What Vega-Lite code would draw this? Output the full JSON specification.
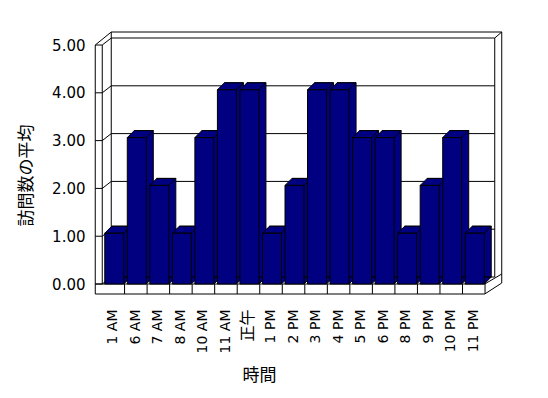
{
  "$schema": "https://vega.github.io/schema/vega-lite/v6.json",
  "autosize": "none",
  "width": 408,
  "height": 262,
  "padding": {"left": 94, "top": 32, "right": 46, "bottom": 104},
  "background": "white",
  "config": {"view": {"stroke": null}},
  "data": {"values": [
    {"t": "1 AM", "v": 1}, {"t": "6 AM", "v": 3}, {"t": "7 AM", "v": 2}, {"t": "8 AM", "v": 1},
    {"t": "10 AM", "v": 3}, {"t": "11 AM", "v": 4}, {"t": "正午", "v": 4}, {"t": "1 PM", "v": 1},
    {"t": "2 PM", "v": 2}, {"t": "3 PM", "v": 4}, {"t": "4 PM", "v": 4}, {"t": "5 PM", "v": 3},
    {"t": "6 PM", "v": 3}, {"t": "8 PM", "v": 1}, {"t": "9 PM", "v": 2}, {"t": "10 PM", "v": 3},
    {"t": "11 PM", "v": 1}
  ]},
  "encoding": {
    "x": {"field": "t", "type": "nominal",
      "scale": {"domain": ["1 AM","6 AM","7 AM","8 AM","10 AM","11 AM","正午","1 PM","2 PM","3 PM","4 PM","5 PM","6 PM","8 PM","9 PM","10 PM","11 PM"],
        "paddingInner": 0, "paddingOuter": 0.5548, "align": 0.32},
      "axis": {"title": "時間", "domain": false, "ticks": false, "grid": false,
        "labelAngle": -90, "labelAlign": "right", "labelBaseline": "middle", "labelPadding": 15,
        "labelFont": "DejaVu Sans, Noto Sans CJK JP",
        "labelFontSize": {"condition": {"test": "datum.value == '正午'", "value": 16}, "value": 14},
        "labelColor": "black",
        "titleFont": "Noto Sans CJK JP", "titleFontSize": 17, "titleFontWeight": "normal", "titleColor": "black",
        "titleX": 165, "titleY": 81, "titleAlign": "center", "titleBaseline": "middle"}},
    "y": {"field": "v", "type": "quantitative",
      "scale": {"domain": [-0.209, 5.272], "nice": false, "zero": false},
      "axis": {"title": "訪問数の平均", "domain": false, "ticks": false, "grid": false,
        "values": [0, 1, 2, 3, 4, 5], "format": ".2f", "labelPadding": 9,
        "labelFont": "DejaVu Sans", "labelFontSize": 15, "labelColor": "black",
        "titleFont": "Noto Sans CJK JP", "titleFontSize": 17, "titleFontWeight": "normal", "titleColor": "black",
        "titleX": -68, "titleY": 143, "titleAlign": "center", "titleBaseline": "middle", "titleAngle": -90}}
  },
  "layer": [
    {"data": {"values": [{"g": 0}, {"g": 1}, {"g": 2}, {"g": 3}, {"g": 4}, {"g": 5}]},
     "mark": {"type": "rule", "color": "black", "strokeWidth": 1, "xOffset": -2, "x2Offset": 21, "yOffset": -7, "y2Offset": -7},
     "encoding": {"x": {"datum": "1 AM"}, "x2": {"datum": "11 PM"}, "y": {"field": "g", "type": "quantitative"}, "y2": {"field": "g"}}},
    {"data": {"values": [{"g": 0}, {"g": 1}, {"g": 2}, {"g": 3}, {"g": 4}, {"g": 5}]},
     "mark": {"type": "rule", "color": "black", "strokeWidth": 1, "xOffset": -18, "x2Offset": -11},
     "encoding": {"x": {"datum": "1 AM"}, "x2": {"datum": "1 AM"}, "y": {"field": "g", "type": "quantitative"}, "y2": {"field": "g"}}},
    {"data": {"values": [{"g": 0}, {"g": 1}, {"g": 2}, {"g": 3}, {"g": 4}]},
     "mark": {"type": "rule", "color": "black", "strokeWidth": 1, "xOffset": -11, "x2Offset": -2, "y2Offset": -7},
     "encoding": {"x": {"datum": "1 AM"}, "x2": {"datum": "1 AM"}, "y": {"field": "g", "type": "quantitative"}, "y2": {"field": "g"}}},
    {"data": {"values": [{"a": 5, "b": 5}]},
     "mark": {"type": "rule", "color": "black", "strokeWidth": 1, "xOffset": -2, "x2Offset": 28, "yOffset": -13, "y2Offset": -13},
     "encoding": {"x": {"datum": "1 AM"}, "x2": {"datum": "11 PM"}, "y": {"field": "a", "type": "quantitative"}, "y2": {"field": "b"}}},
    {"data": {"values": [{"a": 5, "b": 0}]},
     "mark": {"type": "rule", "color": "black", "strokeWidth": 1, "xOffset": -2, "x2Offset": -2, "yOffset": -13, "y2Offset": -7},
     "encoding": {"x": {"datum": "1 AM"}, "x2": {"datum": "1 AM"}, "y": {"field": "a", "type": "quantitative"}, "y2": {"field": "b"}}},
    {"data": {"values": [{"a": 5, "b": 0}]},
     "mark": {"type": "rule", "color": "black", "strokeWidth": 1, "xOffset": 21, "x2Offset": 21, "yOffset": -7, "y2Offset": -7},
     "encoding": {"x": {"datum": "11 PM"}, "x2": {"datum": "11 PM"}, "y": {"field": "a", "type": "quantitative"}, "y2": {"field": "b"}}},
    {"data": {"values": [{"a": 5, "b": 0}]},
     "mark": {"type": "rule", "color": "black", "strokeWidth": 1, "xOffset": 28, "x2Offset": 28, "yOffset": -13, "y2Offset": -1},
     "encoding": {"x": {"datum": "11 PM"}, "x2": {"datum": "11 PM"}, "y": {"field": "a", "type": "quantitative"}, "y2": {"field": "b"}}},
    {"data": {"values": [{"a": 5, "b": 5}]},
     "mark": {"type": "rule", "color": "black", "strokeWidth": 1, "xOffset": 21, "x2Offset": 28, "yOffset": -7, "y2Offset": -13},
     "encoding": {"x": {"datum": "11 PM"}, "x2": {"datum": "11 PM"}, "y": {"field": "a", "type": "quantitative"}, "y2": {"field": "b"}}},
    {"data": {"values": [{"a": 5, "b": 5}]},
     "mark": {"type": "rule", "color": "black", "strokeWidth": 1, "xOffset": -18, "x2Offset": -2, "yOffset": 0, "y2Offset": -13},
     "encoding": {"x": {"datum": "1 AM"}, "x2": {"datum": "1 AM"}, "y": {"field": "a", "type": "quantitative"}, "y2": {"field": "b"}}},
    {"data": {"values": [{"a": 5, "b": 5}]},
     "mark": {"type": "rule", "color": "black", "strokeWidth": 1, "xOffset": -11, "x2Offset": -2, "yOffset": 0, "y2Offset": -7},
     "encoding": {"x": {"datum": "1 AM"}, "x2": {"datum": "1 AM"}, "y": {"field": "a", "type": "quantitative"}, "y2": {"field": "b"}}},
    {"data": {"values": [{"a": 5, "b": 0}]},
     "mark": {"type": "rule", "color": "black", "strokeWidth": 1, "xOffset": -18, "x2Offset": -18, "y2Offset": 10},
     "encoding": {"x": {"datum": "1 AM"}, "x2": {"datum": "1 AM"}, "y": {"field": "a", "type": "quantitative"}, "y2": {"field": "b"}}},
    {"data": {"values": [{"a": 5, "b": 0}]},
     "mark": {"type": "rule", "color": "black", "strokeWidth": 1, "xOffset": -11, "x2Offset": -11},
     "encoding": {"x": {"datum": "1 AM"}, "x2": {"datum": "1 AM"}, "y": {"field": "a", "type": "quantitative"}, "y2": {"field": "b"}}},
    {"data": {"values": [{"a": 0, "b": 0}]},
     "mark": {"type": "rule", "color": "black", "strokeWidth": 1, "xOffset": -18, "x2Offset": 11},
     "encoding": {"x": {"datum": "1 AM"}, "x2": {"datum": "11 PM"}, "y": {"field": "a", "type": "quantitative"}, "y2": {"field": "b"}}},
    {"data": {"values": [{"a": 0, "b": 0}]},
     "mark": {"type": "rule", "color": "black", "strokeWidth": 1, "xOffset": -18, "x2Offset": 11, "yOffset": 10, "y2Offset": 10},
     "encoding": {"x": {"datum": "1 AM"}, "x2": {"datum": "11 PM"}, "y": {"field": "a", "type": "quantitative"}, "y2": {"field": "b"}}},
    {"data": {"values": [{"a": 0, "b": 0}]},
     "mark": {"type": "rule", "color": "black", "strokeWidth": 1, "xOffset": 11, "x2Offset": 28, "y2Offset": -10},
     "encoding": {"x": {"datum": "11 PM"}, "x2": {"datum": "11 PM"}, "y": {"field": "a", "type": "quantitative"}, "y2": {"field": "b"}}},
    {"data": {"values": [{"a": 0, "b": 0}]},
     "mark": {"type": "rule", "color": "black", "strokeWidth": 1, "xOffset": 11, "x2Offset": 28, "yOffset": 10, "y2Offset": -1},
     "encoding": {"x": {"datum": "11 PM"}, "x2": {"datum": "11 PM"}, "y": {"field": "a", "type": "quantitative"}, "y2": {"field": "b"}}},
    {"mark": {"type": "rule", "color": "black", "strokeWidth": 1, "xOffset": 11.3, "y2Offset": 10},
     "encoding": {"y": {"datum": 0}, "y2": {"datum": 0}}},
    {"mark": {"type": "bar", "width": 19, "fill": "#000080", "stroke": "black", "strokeWidth": 1, "xOffset": 8, "yOffset": -10, "y2Offset": -7},
     "encoding": {"y2": {"datum": 0}}},
    {"mark": {"type": "point", "filled": true, "shape": "M-1,-1L1,-1L-1,1Z", "size": 49, "fill": "#000080", "stroke": "black", "strokeWidth": 1, "opacity": 1, "xOffset": 14, "yOffset": -3.5},
     "encoding": {"y": {"datum": 0}}},
    {"mark": {"type": "point", "filled": true, "shape": "M-1,0.2692L-0.4615,-0.2692L1,-0.2692L0.4615,0.2692Z", "size": 676, "fill": "#000080", "stroke": "black", "strokeWidth": 1, "opacity": 1, "xOffset": 4.5, "yOffset": -6.5},
     "encoding": {}},
    {"mark": {"type": "bar", "width": 19, "fill": "#000080", "stroke": "black", "strokeWidth": 1, "xOffset": 1, "yOffset": -3},
     "encoding": {"y2": {"datum": 0}}}
  ]
}
